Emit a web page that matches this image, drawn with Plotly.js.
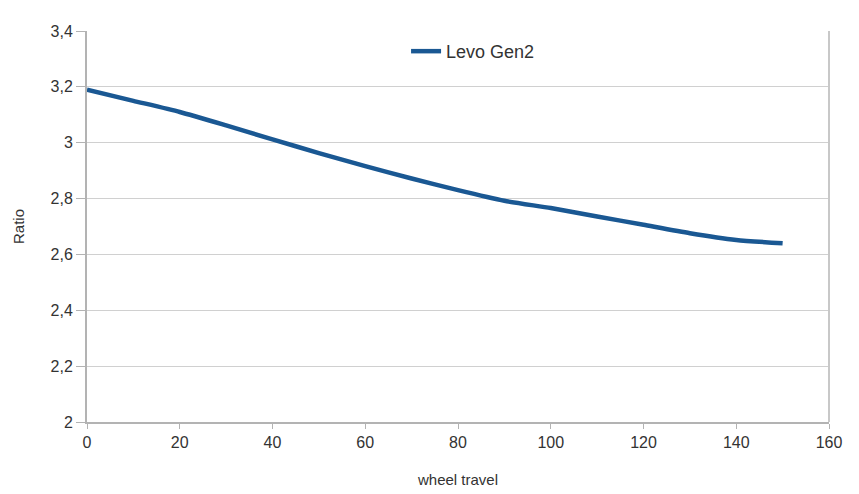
<!DOCTYPE html>
<html>
<head>
<meta charset="utf-8">
<script src="https://cdn.plot.ly/plotly-3.0.1.min.js"></script>
<style>html,body{margin:0;padding:0;background:#fff;}#chart{width:859px;height:494px;}</style>
</head>
<body>
<div id="chart"></div>
<script>
const travel = [0, 10, 20, 30, 40, 50, 60, 70, 80, 90, 100, 110, 120, 130, 140, 150];
const ratio = [3.19, 3.15, 3.11, 3.062, 3.012, 2.963, 2.916, 2.872, 2.83, 2.792, 2.766, 2.736, 2.706, 2.676, 2.652, 2.64];
const seriesName = "Levo Gen2";
const yTicks = [2, 2.2, 2.4, 2.6, 2.8, 3, 3.2, 3.4];
const yTickText = ["2", "2,2", "2,4", "2,6", "2,8", "3", "3,2", "3,4"];

Plotly.newPlot("chart", [{
  x: travel, y: ratio, type: "scatter", mode: "lines", name: seriesName,
  line: {color: "#1a5893", width: 4.5, shape: "spline", smoothing: 0.6}
}], {
  width: 859, height: 494,
  margin: {l: 87, r: 30, t: 31, b: 72},
  paper_bgcolor: "#ffffff", plot_bgcolor: "#ffffff",
  font: {family: "Liberation Sans, Arial, sans-serif", color: "#333", size: 16},
  showlegend: true,
  legend: {x: 0.43, y: 0.995, xanchor: "left", yanchor: "top", bgcolor: "rgba(0,0,0,0)", font: {size: 18, color: "#333"}},
  xaxis: {
    range: [0, 160], dtick: 20, tick0: 0, showgrid: false, zeroline: false,
    showline: true, linecolor: "#b3b3b3", linewidth: 2, mirror: false,
    ticks: "outside", ticklen: 5, tickcolor: "#b3b3b3", tickwidth: 1,
    title: {text: "wheel travel", font: {size: 15, color: "#333"}, standoff: 24}
  },
  yaxis: {
    range: [2, 3.4], tickvals: yTicks, ticktext: yTickText,
    showgrid: true, gridcolor: "#d0d0d0", gridwidth: 1, zeroline: false,
    showline: true, linecolor: "#b3b3b3", linewidth: 2,
    ticks: "outside", ticklen: 9, tickcolor: "#b3b3b3", tickwidth: 1,
    title: {text: "Ratio", font: {size: 15, color: "#333"}, standoff: 22}
  },
  shapes: [{type: "line", xref: "paper", yref: "paper", x0: 1, x1: 1, y0: 0, y1: 1, line: {color: "#c8c8c8", width: 2}}]
}, {displayModeBar: false});
</script>
</body>
</html>
